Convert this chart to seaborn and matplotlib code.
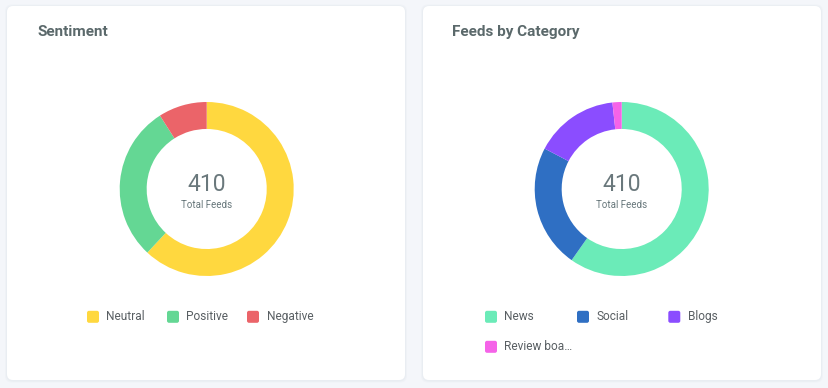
import matplotlib
matplotlib.use("Agg")
import matplotlib.pyplot as plt
import seaborn as sns
from matplotlib.patches import FancyBboxPatch
from matplotlib.transforms import IdentityTransform

sns.set_style("white")
plt.rcParams["font.family"] = ["Roboto", "DejaVu Sans"]

# data
total_feeds = 410
sentiment_labels = ["Neutral", "Positive", "Negative"]
sentiment_counts = [254, 119, 37]
sentiment_colors = ["#FFD83F", "#64D794", "#EB6469"]

category_labels = ["News", "Social", "Blogs", "Review boa\u2026"]
category_counts = [245, 94, 64, 7]
category_colors = ["#6BEBB8", "#2F6FC3", "#8B4DFF", "#F563E8"]

W, H = 829, 388
fig = plt.figure(figsize=(W / 100, H / 100), dpi=100, facecolor="#F4F6FA")
px = IdentityTransform()


def card(x0, y0, x1, y1):
    """white rounded card, coords in pixels from top-left"""
    # soft shadow
    for grow, alpha in [(2.0, 0.04), (1.0, 0.05)]:
        fig.patches.append(
            FancyBboxPatch(
                (x0 - grow, H - y1 - grow - 0.5), x1 - x0 + 2 * grow, y1 - y0 + 2 * grow,
                boxstyle="round,pad=0,rounding_size=7", transform=px,
                facecolor="#8090A8", alpha=alpha, edgecolor="none", zorder=-2,
            )
        )
    fig.patches.append(
        FancyBboxPatch(
            (x0, H - y1), x1 - x0, y1 - y0,
            boxstyle="round,pad=0,rounding_size=6", transform=px,
            facecolor="white", edgecolor="none", zorder=-1,
        )
    )


def donut(cx, cy, r, counts, colors):
    ax = fig.add_axes([(cx - r) / W, 1 - (cy + r) / H, 2 * r / W, 2 * r / H])
    ax.set_zorder(2)
    ax.patch.set_visible(False)
    ax.pie(
        counts, colors=colors, startangle=90, counterclock=False, radius=1,
        wedgeprops=dict(width=0.31, edgecolor="none", linewidth=0),
    )
    ax.set_xlim(-1, 1)
    ax.set_ylim(-1, 1)
    ax.axis("off")
    fig.text(cx / W, 1 - 184.5 / H, str(total_feeds), ha="center", va="center",
             fontsize=16.5, fontweight="normal", color="#6A787C", zorder=3)
    fig.text(cx / W, 1 - 204.5 / H, "Total Feeds", ha="center", va="center",
             fontsize=7, color="#66767A", zorder=3)
    return ax


def legend(items, colors, spots):
    for label, color, (sx, sy) in zip(items, colors, spots):
        fig.patches.append(
            FancyBboxPatch(
                (sx, H - sy - 6), 12, 12, boxstyle="round,pad=0,rounding_size=2",
                transform=px, facecolor=color, edgecolor="none", zorder=3,
            )
        )
        fig.text((sx + 19.5) / W, 1 - sy / H, label, ha="left", va="center",
                 fontsize=8.6, color="#595F63", zorder=3)


card(7, 6, 405, 380)
card(423, 6, 821, 380)

fig.text(37 / W, 1 - 32 / H, "Sentiment", ha="left", va="center",
         fontsize=11, fontweight="bold", color="#5B696B")
fig.text(452 / W, 1 - 32 / H, "Feeds by Category", ha="left", va="center",
         fontsize=11, fontweight="bold", color="#5B696B")

donut(206.7, 189, 87, sentiment_counts, sentiment_colors)
donut(621.7, 189, 87, category_counts, category_colors)

legend(sentiment_labels, sentiment_colors, [(87, 316.8), (167, 316.8), (247, 316.8)])
legend(category_labels, category_colors,
       [(485, 316.8), (577, 316.8), (668.3, 316.8), (485, 346.8)])

fig.savefig("out.png", dpi=100, facecolor=fig.get_facecolor())
